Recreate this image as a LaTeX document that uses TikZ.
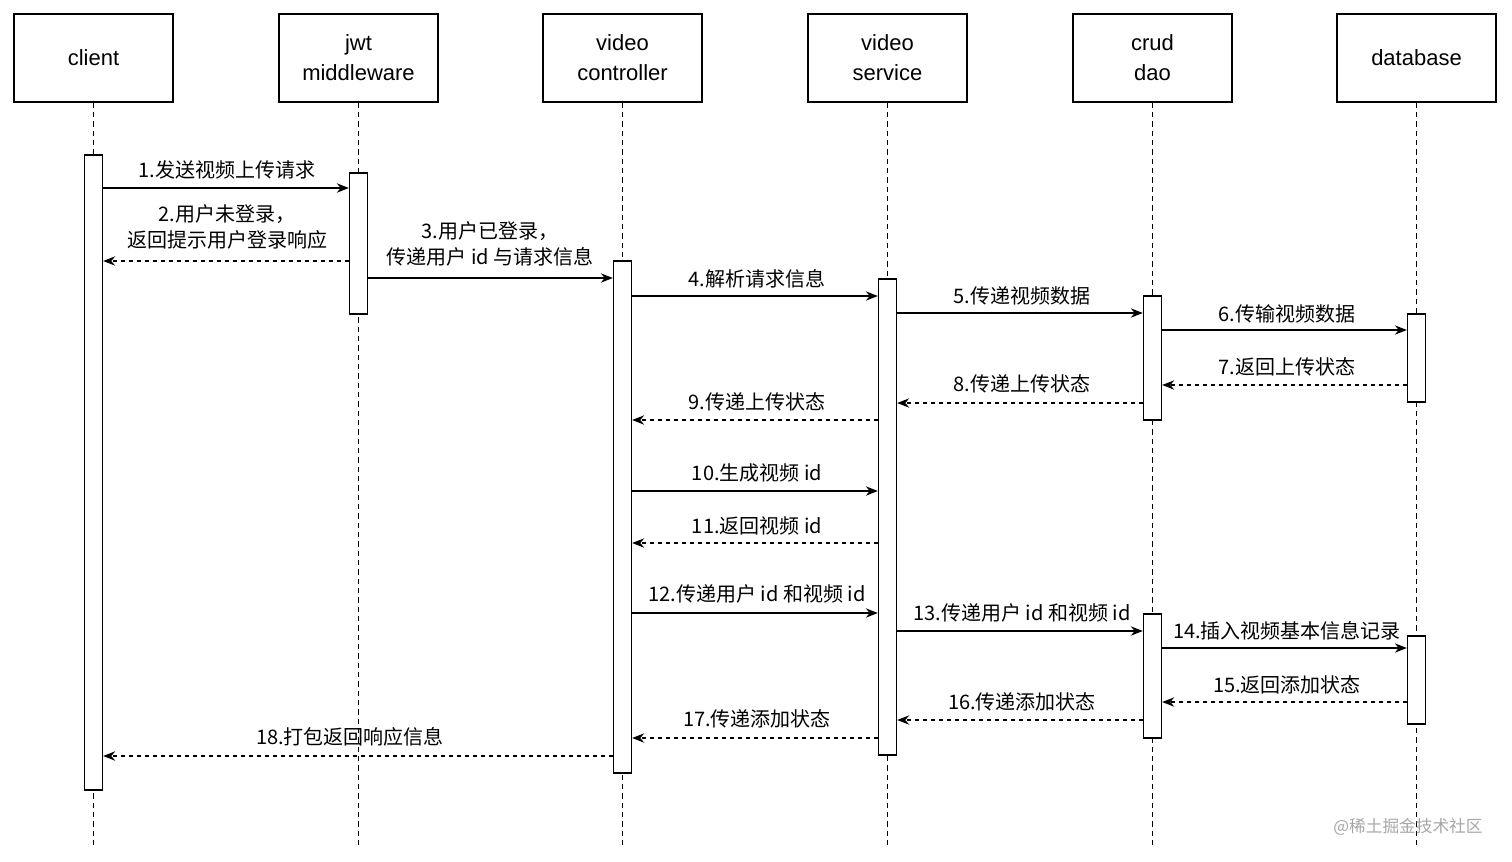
\documentclass[tikz,border=0pt]{standalone}
\usepackage{fontspec}
\setmainfont{Liberation Sans}
\newfontfamily\cjk{Noto Sans CJK SC}
\usetikzlibrary{arrows.meta}
\begin{document}
\begin{tikzpicture}[x=0.75pt,y=-0.75pt,
  hdr/.style={draw,line width=1pt,minimum width=159*0.75pt,minimum height=88*0.75pt,align=center,font=\fontsize{16.5}{22.5}\selectfont,inner sep=0},
  act/.style={draw,line width=1pt,fill=white,minimum width=18*0.75pt,inner sep=0},
  life/.style={dashed,line width=0.8pt,dash pattern=on 4pt off 3pt},
  msg/.style={line width=1pt,-{Stealth[length=9pt,width=7pt]}},
  ret/.style={msg,dash pattern=on 3pt off 3pt},
  lbl/.style={font=\cjk\fontsize{15}{19.5}\selectfont,align=center,inner sep=1pt,fill=white}]
\useasboundingbox (0,0) rectangle (1512,861);
\foreach \n/\x/\t in {h1/93.5/client,h2/358.5/{jwt\\middleware},h3/622.5/{video\\controller},h4/887.5/{video\\service},h5/1152.5/{crud\\dao},h6/1416.5/database}{
  \node[hdr] (\n) at (\x,58) {\t};
  \coordinate (e\n) at (\x,845);
  \draw[life] (\n.south) -- (e\n);
}
\newcommand\actbar[4]{\node[act,minimum height=#4*0.75pt-#3*0.75pt] (#1) at (#2,{(#3+#4)/2}) {};}
\actbar{a1}{93.5}{155}{790}
\actbar{a2}{358.5}{173}{314}
\actbar{a3}{622.5}{261}{773}
\actbar{a4}{887.5}{279}{755}
\actbar{a5}{1152.5}{296}{420}
\actbar{a5b}{1152.5}{614}{738}
\actbar{a6}{1416.5}{314}{402}
\actbar{a6b}{1416.5}{636}{724}
% messages
\draw[msg] (a1.east |- 0,188) -- (a2.west |- 0,188);
\node[lbl] (l1) at (227,170) {1.发送视频上传请求};
\draw[ret] (a2.west |- 0,261) -- (a1.east |- 0,261);
\node[lbl] (l2) at (227,227) {2.用户未登录，\\返回提示用户登录响应};
\draw[msg] (a2.east |- 0,278) -- (a3.west |- 0,278);
\node[lbl] (l3) at (490,244) {3.用户已登录，\\传递用户 id 与请求信息};
\draw[msg] (a3.east |- 0,296) -- (a4.west |- 0,296);
\node[lbl] (l4) at (757,279) {4.解析请求信息};
\draw[msg] (a4.east |- 0,313) -- (a5.west |- 0,313);
\node[lbl] (l5) at (1022,296) {5.传递视频数据};
\draw[msg] (a5.east |- 0,330) -- (a6.west |- 0,330);
\node[lbl] (l6) at (1287,314) {6.传输视频数据};
\draw[ret] (a6.west |- 0,385) -- (a5.east |- 0,385);
\node[lbl] (l7) at (1287,367) {7.返回上传状态};
\draw[ret] (a5.west |- 0,403) -- (a4.east |- 0,403);
\node[lbl] (l8) at (1022,384) {8.传递上传状态};
\draw[ret] (a4.west |- 0,420) -- (a3.east |- 0,420);
\node[lbl] (l9) at (757,402) {9.传递上传状态};
\draw[msg] (a3.east |- 0,491) -- (a4.west |- 0,491);
\node[lbl] (l10) at (757,473) {10.生成视频 id};
\draw[ret] (a4.west |- 0,543) -- (a3.east |- 0,543);
\node[lbl] (l11) at (757,526) {11.返回视频 id};
\draw[msg] (a3.east |- 0,613) -- (a4.west |- 0,613);
\node[lbl] (l12) at (757,594) {12.传递用户 id 和视频 id};
\draw[msg] (a4.east |- 0,631) -- (a5b.west |- 0,631);
\node[lbl] (l13) at (1022,613) {13.传递用户 id 和视频 id};
\draw[msg] (a5b.east |- 0,648) -- (a6b.west |- 0,648);
\node[lbl,fill=none] (l14) at (1287,631) {14.插入视频基本信息记录};
\draw[ret] (a6b.west |- 0,702) -- (a5b.east |- 0,702);
\node[lbl] (l15) at (1287,685) {15.返回添加状态};
\draw[ret] (a5b.west |- 0,720) -- (a4.east |- 0,720);
\node[lbl] (l16) at (1022,702) {16.传递添加状态};
\draw[ret] (a4.west |- 0,738) -- (a3.east |- 0,738);
\node[lbl] (l17) at (757,719) {17.传递添加状态};
\draw[ret] (a3.west |- 0,756) -- (a1.east |- 0,756);
\node[lbl,fill=none] (l18) at (350,737) {18.打包返回响应信息};
\node[font=\cjk\fontsize{12.5}{14}\selectfont,text=gray!70,inner sep=0] (wm) at (1408,827) {@稀土掘金技术社区};
\end{tikzpicture}
\end{document}
